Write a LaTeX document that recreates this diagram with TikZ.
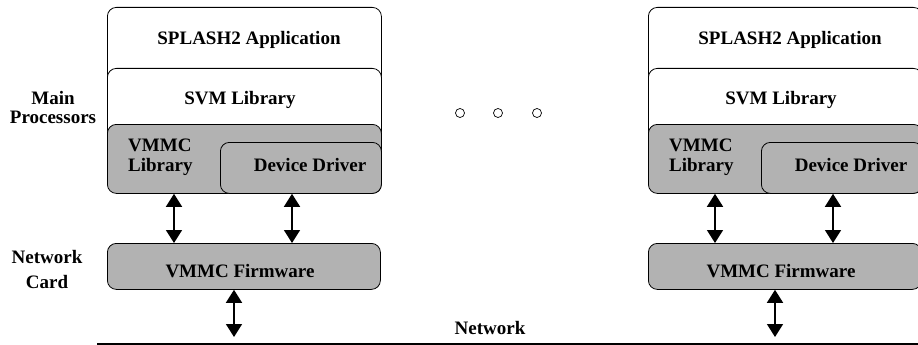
\documentclass[tikz,border=0pt]{standalone}
\usepackage{fontspec}
\setmainfont{Liberation Serif}
\usetikzlibrary{arrows.meta}

\begin{document}
\begin{tikzpicture}[x=1pt,y=-1pt,
  txt/.style={font=\bfseries\fontsize{19}{19}\selectfont, inner sep=0pt},
  layerbox/.style={draw, line width=0.8pt, rounded corners=9pt, anchor=north west, inner sep=0pt},
  whitebox/.style={layerbox, fill=white},
  graybox/.style={layerbox, fill=gray!60},
  dbl/.style={{Triangle[width=16pt,length=13pt]}-{Triangle[width=16pt,length=13pt]}, line width=1.6pt},
  dotmark/.style={circle, draw, line width=0.7pt, minimum size=9pt, inner sep=0pt}
]
\useasboundingbox (0,0) rectangle (918,345);

% one processor node: software layers above its network card
\foreach \dx/\s in {0/L,541/R}{
  \node[whitebox, minimum width=274pt, minimum height=125pt] (app\s) at (107+\dx,7) {};
  \node[whitebox, minimum width=274pt, minimum height=90pt] (svm\s) at (107+\dx,68) {};
  \node[graybox, minimum width=274pt, minimum height=69pt] (vmmc\s) at (107+\dx,124) {};
  \node[graybox, minimum width=161pt, minimum height=51pt] (drv\s) at (220+\dx,142) {};
  \node[graybox, minimum width=273pt, minimum height=46pt] (fw\s) at (107+\dx,243) {};

  \node[txt, anchor=base] (appT\s) at (249+\dx,45) {SPLASH2 Application};
  \node[txt, anchor=base] (svmT\s) at (240+\dx,104) {SVM Library};
  \node[txt, anchor=north west, align=left, font=\bfseries\fontsize{19}{20}\selectfont] (vmmcT\s) at (128+\dx,139) {VMMC\\Library};
  \node[txt, anchor=base] (drvT\s) at (310+\dx,171) {Device Driver};
  \node[txt, anchor=base] (fwT\s) at (240+\dx,277) {VMMC Firmware};

  \coordinate (xa\s) at (174+\dx,0);
  \coordinate (xb\s) at (292+\dx,0);
  \coordinate (tap\s) at (234+\dx,337);
  \draw[dbl] (vmmc\s.south -| xa\s) -- (fw\s.north -| xa\s);
  \draw[dbl] (drv\s.south -| xb\s) -- (fw\s.north -| xb\s);
  \draw[dbl] (fw\s.south -| tap\s) -- (tap\s);
}

% side labels
\node[txt, anchor=north, align=center] (mainT) at (53,91) {Main\\Processors};
\node[txt, anchor=north, align=center, font=\bfseries\fontsize{19}{25}\selectfont] (cardT) at (47,250) {Network\\Card};

% elision marks between the nodes
\node[dotmark] (d1) at (460,113) {};
\node[dotmark] (d2) at (498,113) {};
\node[dotmark] (d3) at (537,113) {};

% the network
\coordinate (netA) at (97,344);
\coordinate (netB) at (918,344);
\draw[line width=1.4pt] (netA) -- (netB);
\node[txt, anchor=base] (netT) at (490,334) {Network};
\end{tikzpicture}
\end{document}
